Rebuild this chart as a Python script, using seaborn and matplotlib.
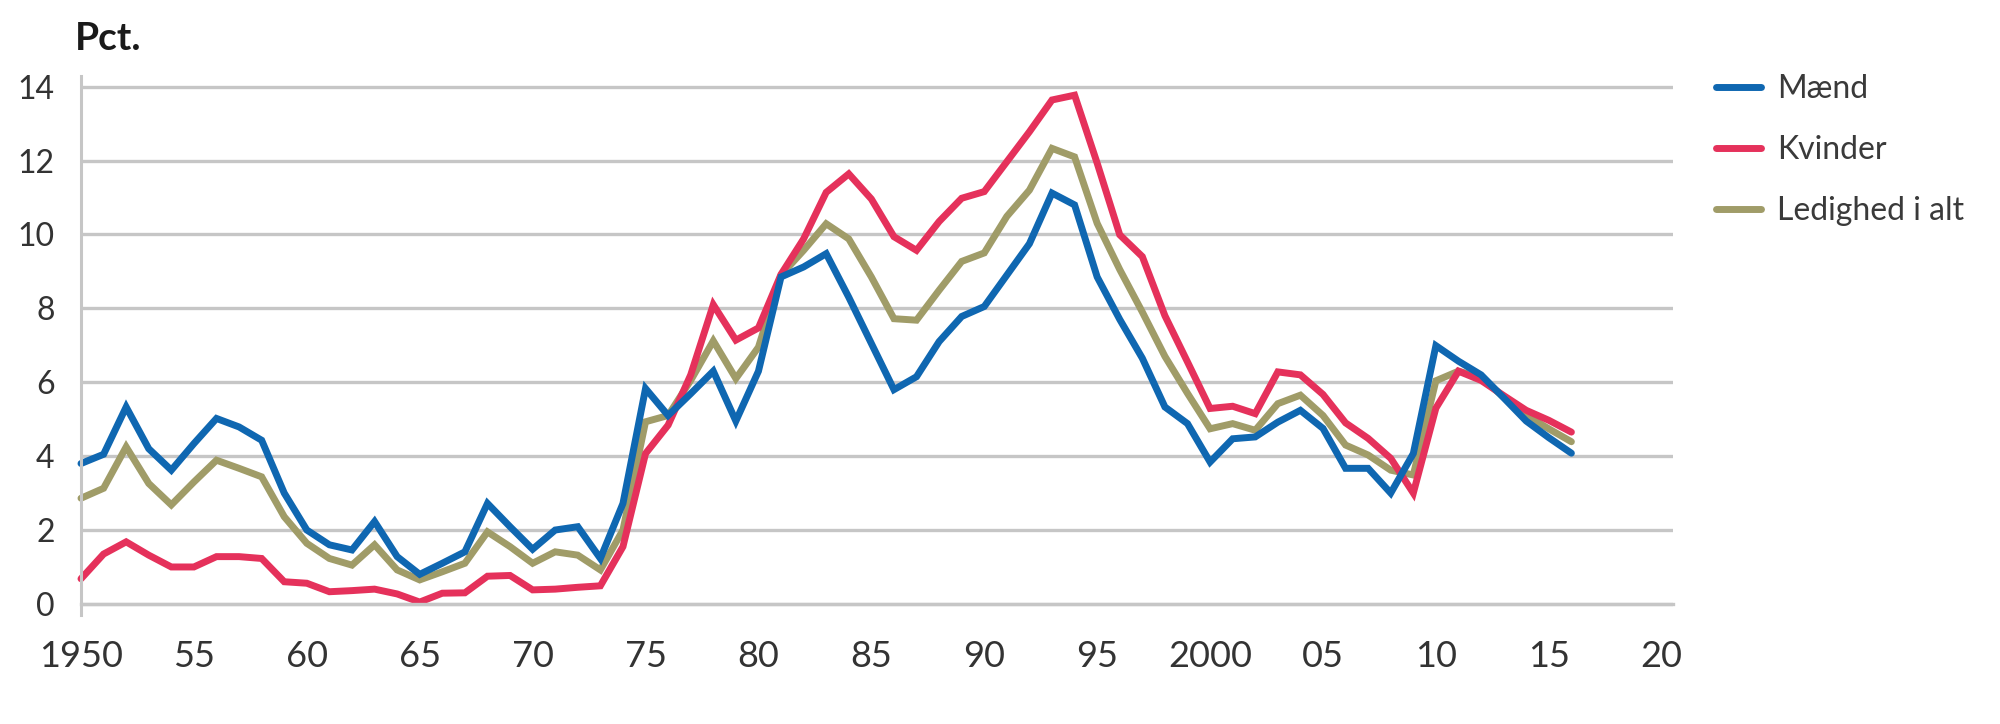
import numpy as np
import pandas as pd
import matplotlib
matplotlib.use("Agg")
import matplotlib.pyplot as plt
import seaborn as sns

years = list(range(1950, 2017))

maend = [3.80, 4.05, 5.33, 4.20, 3.62, 4.34, 5.02, 4.79, 4.43, 3.00,
         2.00, 1.60, 1.46, 2.23, 1.28, 0.80, 1.10, 1.41, 2.72, 2.09,
         1.48, 2.00, 2.09, 1.23, 2.72, 5.83, 5.10, 5.69, 6.30, 4.95,
         6.30, 8.85, 9.12, 9.48, 8.30, 7.05, 5.80, 6.15, 7.10, 7.78,
         8.05, 8.90, 9.75, 11.12, 10.80, 8.85, 7.70, 6.65, 5.33, 4.88,
         3.84, 4.47, 4.52, 4.92, 5.24, 4.75, 3.67, 3.67, 3.00, 4.07,
         6.99, 6.57, 6.20, 5.58, 4.95, 4.50, 4.08]

kvinder = [0.68, 1.35, 1.68, 1.32, 1.00, 1.00, 1.28, 1.28, 1.23, 0.60,
           0.56, 0.33, 0.36, 0.40, 0.27, 0.05, 0.29, 0.30, 0.75, 0.77,
           0.38, 0.40, 0.45, 0.49, 1.55, 4.07, 4.84, 6.20, 8.10, 7.14,
           7.47, 8.92, 9.88, 11.14, 11.64, 10.96, 9.94, 9.57, 10.35, 10.98,
           11.16, 11.97, 12.78, 13.64, 13.77, 11.93, 9.99, 9.40, 7.80, 6.55,
           5.29, 5.35, 5.15, 6.28, 6.20, 5.67, 4.90, 4.48, 3.94, 3.00,
           5.30, 6.30, 6.05, 5.64, 5.24, 4.97, 4.65]

ialt = [2.86, 3.13, 4.25, 3.26, 2.68, 3.30, 3.89, 3.67, 3.44, 2.36,
        1.64, 1.23, 1.05, 1.60, 0.92, 0.65, 0.87, 1.10, 1.95, 1.55,
        1.10, 1.41, 1.32, 0.92, 2.00, 4.93, 5.10, 6.05, 7.12, 6.10,
        6.95, 8.90, 9.57, 10.29, 9.88, 8.85, 7.72, 7.68, 8.49, 9.27,
        9.50, 10.49, 11.20, 12.33, 12.10, 10.30, 9.05, 7.90, 6.70, 5.70,
        4.74, 4.88, 4.70, 5.42, 5.65, 5.10, 4.30, 4.03, 3.62, 3.49,
        6.04, 6.30, 6.13, 5.60, 5.10, 4.74, 4.39]

series_names = ["Mænd", "Kvinder", "Ledighed i alt"]
series_values = [maend, kvinder, ialt]
colors = {"Mænd": "#0f67b1", "Kvinder": "#e5315b", "Ledighed i alt": "#a09c68"}

xtick_pos = list(range(1950, 2021, 5))
xtick_labels = ["1950", "55", "60", "65", "70", "75", "80", "85", "90", "95",
                "2000", "05", "10", "15", "20"]
ytick_pos = list(range(0, 15, 2))

df = pd.concat([pd.DataFrame({"year": years, "value": v, "serie": n})
                for n, v in zip(series_names, series_values)], ignore_index=True)

sns.set_theme(style="white")
plt.rcParams["font.family"] = ["Lato", "DejaVu Sans"]

grid_c = "#c6c6c6"
text_c = "#333333"

fig = plt.figure(figsize=(20, 7.24), dpi=100)
ax = fig.add_axes([81 / 2000, 1 - 615 / 724, (1673 - 81) / 2000, (615 - 75.6) / 724])

# draw order: total, women, men (men on top)
for name in ["Ledighed i alt", "Kvinder", "Mænd"]:
    sns.lineplot(data=df[df["serie"] == name], x="year", y="value",
                 color=colors[name], linewidth=5.0, label=name, ax=ax,
                 solid_joinstyle="miter", clip_on=False)

ax.set_xlim(1950, 2020.5)
ax.set_ylim(-0.3, 14.3)
ax.set_xticks(xtick_pos)
ax.set_xticklabels(xtick_labels)
ax.set_yticks(ytick_pos)
ax.set_yticklabels([str(t) for t in ytick_pos])
ax.set_xlabel("")
ax.set_ylabel("")

ax.yaxis.grid(True, color=grid_c, linewidth=2.4)
ax.xaxis.grid(False)
ax.set_axisbelow(True)

for s in ["top", "right"]:
    ax.spines[s].set_visible(False)
ax.spines["left"].set_color(grid_c)
ax.spines["left"].set_linewidth(2.2)
ax.spines["bottom"].set_position(("data", 0))
ax.spines["bottom"].set_color(grid_c)
ax.spines["bottom"].set_linewidth(2.4)

ax.tick_params(axis="x", direction="inout", length=18, width=2.2, color=grid_c,
               labelsize=26, labelcolor=text_c, pad=17)
ax.tick_params(axis="y", direction="out", length=6, width=2.2, color=grid_c,
               labelsize=23, labelcolor=text_c, pad=13)

fig.text(75 / 2000, 1 - 50 / 724, "Pct.", ha="left", va="baseline",
         fontsize=28, fontweight="bold", color="#1a1a1a")

handles, labels = ax.get_legend_handles_labels()
order = [labels.index(n) for n in series_names]
ax.get_legend().remove()
leg = fig.legend([handles[i] for i in order], [labels[i] for i in order],
                 loc="upper left", bbox_to_anchor=(1716 / 2000, 1 - 74 / 724),
                 frameon=False, fontsize=23, handlelength=1.4, handletextpad=0.5,
                 labelspacing=0.97, borderpad=0, borderaxespad=0)
for t in leg.get_texts():
    t.set_color("#3a3a3a")
for h in leg.get_lines():
    h.set_linewidth(5.0)

fig.savefig("out.png", dpi=100, facecolor="white")
